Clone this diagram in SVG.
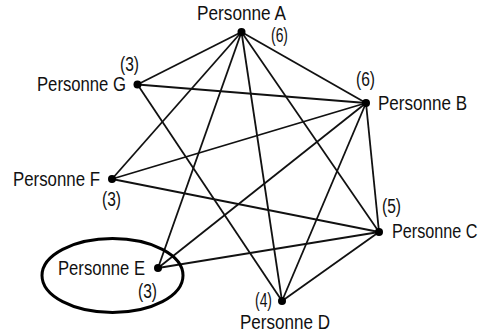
<svg xmlns="http://www.w3.org/2000/svg" width="483" height="333" viewBox="0 0 483 333">
<style>
text{font-family:"Liberation Sans",Arial,sans-serif;font-size:20px;fill:#111}
.e line{stroke:#111;stroke-width:1.8}
.dot{fill:#000}
</style>
<rect width="483" height="333" fill="#fff"/>
<g id="connectors" class="e">
<line x1="241.5" y1="32" x2="137.5" y2="84.5"/>
<line x1="241.5" y1="32" x2="366" y2="103"/>
<line x1="241.5" y1="32" x2="379" y2="232"/>
<line x1="241.5" y1="32" x2="282" y2="301"/>
<line x1="241.5" y1="32" x2="158" y2="268"/>
<line x1="241.5" y1="32" x2="112" y2="179"/>
<line x1="366" y1="103" x2="137.5" y2="84.5"/>
<line x1="366" y1="103" x2="112" y2="179"/>
<line x1="366" y1="103" x2="158" y2="268"/>
<line x1="366" y1="103" x2="379" y2="232"/>
<line x1="366" y1="103" x2="282" y2="301"/>
<line x1="379" y1="232" x2="112" y2="179"/>
<line x1="379" y1="232" x2="158" y2="268"/>
<line x1="379" y1="232" x2="282" y2="301"/>
<line x1="282" y1="301" x2="137.5" y2="84.5"/>
</g>
<g id="nodeA"><circle class="dot" cx="241.5" cy="32" r="4"/><text x="197" y="20" textLength="89" lengthAdjust="spacingAndGlyphs">Personne A</text><text x="271" y="42" textLength="17" lengthAdjust="spacingAndGlyphs">(6)</text></g>
<g id="nodeB"><circle class="dot" cx="366" cy="103" r="4"/><text x="378" y="110" textLength="89" lengthAdjust="spacingAndGlyphs">Personne B</text><text x="356" y="86" textLength="19" lengthAdjust="spacingAndGlyphs">(6)</text></g>
<g id="nodeC"><circle class="dot" cx="379" cy="232" r="4"/><text transform="translate(392,238) scale(0.81,1)">Personne C</text><text x="382" y="213" textLength="19" lengthAdjust="spacingAndGlyphs">(5)</text></g>
<g id="nodeD"><circle class="dot" cx="282" cy="301" r="4"/><text x="240" y="329" textLength="90" lengthAdjust="spacingAndGlyphs">Personne D</text><text x="255" y="307" textLength="17" lengthAdjust="spacingAndGlyphs">(4)</text></g>
<g id="nodeE"><ellipse cx="112.5" cy="275.5" rx="70.5" ry="37" fill="none" stroke="#000" stroke-width="3"/><circle class="dot" cx="158" cy="268" r="4"/><text x="58" y="275" textLength="87" lengthAdjust="spacingAndGlyphs">Personne E</text><text x="138" y="298" textLength="19" lengthAdjust="spacingAndGlyphs">(3)</text></g>
<g id="nodeF"><circle class="dot" cx="112" cy="179" r="4"/><text x="13" y="186" textLength="87" lengthAdjust="spacingAndGlyphs">Personne F</text><text x="102" y="206" textLength="19" lengthAdjust="spacingAndGlyphs">(3)</text></g>
<g id="nodeG"><circle class="dot" cx="137.5" cy="84.5" r="4"/><text x="37" y="91" textLength="89" lengthAdjust="spacingAndGlyphs">Personne G</text><text x="120" y="71" textLength="19" lengthAdjust="spacingAndGlyphs">(3)</text></g>
</svg>
